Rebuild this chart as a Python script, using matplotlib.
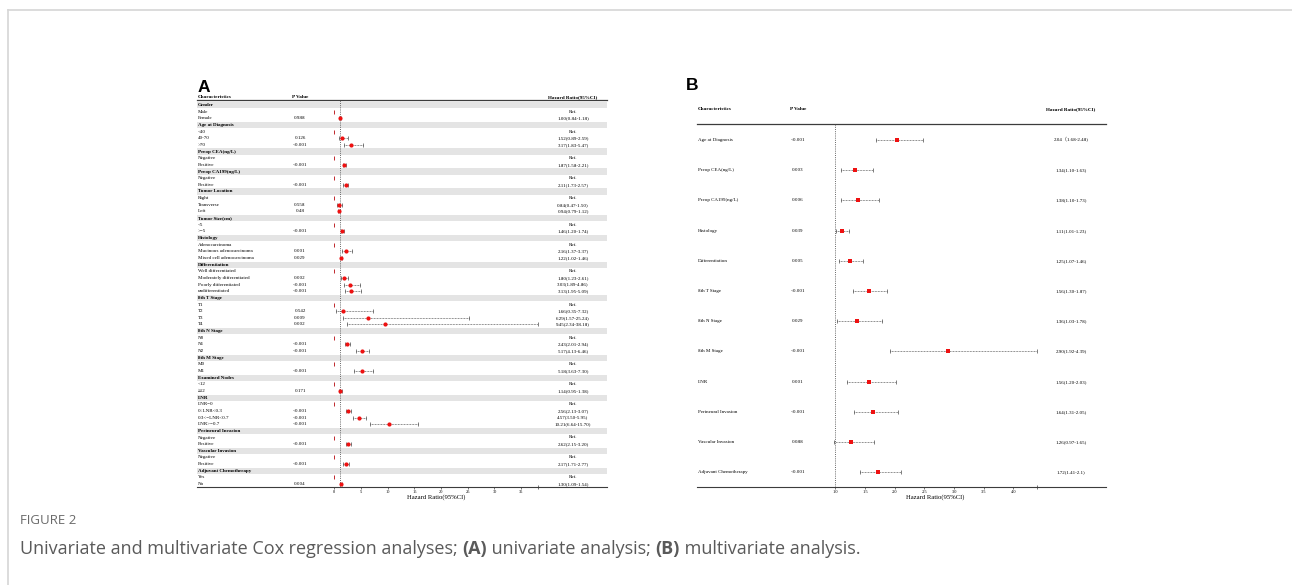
import re

import matplotlib
matplotlib.use("Agg")
import matplotlib.pyplot as plt
from matplotlib.lines import Line2D

W, H = 1292, 585
SERIF = ["Liberation Serif", "Noto Sans CJK SC"]

# univariate Cox model: first level of each variable is the reference
a_groups = ["Gender", "Age at Diagnosis", "Preop CEA(ng/L)", "Preop CA199(ng/L)", "Tumor Location",
            "Tumor Size(cm)", "Histology", "Differentiation", "8th T Stage", "8th N Stage",
            "8th M Stage", "Examined Nodes", "LNR", "Perineural Invasion", "Vascular Invasion",
            "Adjuvant Chemotherapy"]
a_levels = [["Male", "Female"], ["<40", "40-70", ">70"], ["Negative", "Positive"],
            ["Negative", "Positive"], ["Right", "Transverse", "Left"], ["<5", ">=5"],
            ["Adenocarcinoma", "Mucinous adenocarcinoma", "Mixed cell adenocarcinoma"],
            ["Well differentiated", "Moderately differentiated", "Poorly differentiated",
             "undifferentiated"],
            ["T1", "T2", "T3", "T4"], ["N0", "N1", "N2"], ["M0", "M1"], ["<12", "≥12"],
            ["LNR=0", "0<LNR<0.3", "0.3<=LNR<0.7", "LNR>=0.7"], ["Negative", "Positive"],
            ["Negative", "Positive"], ["Yes", "No"]]
a_pvals = [["0.988"], ["0.126", "<0.001"], ["<0.001"], ["<0.001"], ["0.558", "0.48"], ["<0.001"],
           ["0.001", "0.029"], ["0.002", "<0.001", "<0.001"], ["0.542", "0.009", "0.002"],
           ["<0.001", "<0.001"], ["<0.001"], ["0.171"], ["<0.001", "<0.001", "<0.001"],
           ["<0.001"], ["<0.001"], ["0.004"]]
a_hr = [["1.00(0.84-1.18)"], ["1.52(0.89-2.59)", "3.17(1.83-5.47)"], ["1.87(1.58-2.21)"],
        ["2.11(1.73-2.57)"], ["0.84(0.47-1.50)", "0.94(0.79-1.12)"], ["1.46(1.20-1.74)"],
        ["2.16(1.37-3.37)", "1.22(1.02-1.46)"],
        ["1.80(1.23-2.61)", "3.03(1.89-4.86)", "3.13(1.95-5.09)"],
        ["1.66(0.35-7.32)", "6.29(1.57-25.24)", "9.45(2.34-38.18)"],
        ["2.43(2.01-2.94)", "5.17(4.13-6.46)"], ["5.18(3.63-7.30)"], ["1.14(0.95-1.38)"],
        ["2.56(2.13-3.07)", "4.57(3.50-5.95)", "10.21(6.64-15.70)"], ["2.62(2.15-3.20)"],
        ["2.17(1.71-2.77)"], ["1.30(1.09-1.54)"]]
a_ticks = [0, 5, 10, 15, 20, 25, 30, 35]

# multivariate Cox model
b_vars = ["Age at Diagnosis", "Preop CEA(ng/L)", "Preop CA199(ng/L)", "Histology", "Differentiation",
          "8th T Stage", "8th N Stage", "8th M Stage", "LNR", "Perineural Invasion",
          "Vascular Invasion", "Adjuvant Chemotherapy"]
b_pvals = ["<0.001", "0.003", "0.006", "0.039", "0.005", "<0.001", "0.029", "<0.001", "0.001",
           "<0.001", "0.088", "<0.001"]
b_hr = ["2.04（1.68-2.48)", "1.34(1.10-1.63)", "1.38(1.10-1.73)", "1.11(1.01-1.23)",
        "1.25(1.07-1.46)", "1.56(1.30-1.87)", "1.36(1.03-1.78)", "2.90(1.92-4.39)",
        "1.56(1.20-2.03)", "1.64(1.31-2.05)", "1.26(0.97-1.65)", "1.72(1.41-2.1)"]
b_ticks = [1.0, 1.5, 2.0, 2.5, 3.0, 3.5, 4.0]


def parse(s):
    est, lo, hi = map(float, re.findall(r"\d+(?:\.\d+)?", s))
    return est, lo, hi


rows_a = []
for g, levs, ps, hrs in zip(a_groups, a_levels, a_pvals, a_hr):
    rows_a.append((g, "group", "", ""))
    rows_a.append((levs[0], "ref", "", "Ref."))
    for lev, p, hr in zip(levs[1:], ps, hrs):
        rows_a.append((lev, "est", p, hr))

rows_b = [(v, "est", p, hr) for v, p, hr in zip(b_vars, b_pvals, b_hr)]

fig = plt.figure(figsize=(W / 100, H / 100), dpi=100)


def box(x0, y0, x1, y1):
    return [x0 / W, 1 - y1 / H, (x1 - x0) / W, (y1 - y0) / H]


def draw_panel(rows, tab, ref_px, px_per_unit, xlim, ticks, row0, pitch, head_py,
               p_x, hr_x, hr_head_x, marker, ms):
    x0, top, x1, bottom = tab
    ax = fig.add_axes(box(x0, top, x1, bottom))
    ax.set_xlim(x0, x1)
    ax.set_ylim((bottom - row0) / pitch, (top - row0) / pitch)
    ax.set_xticks([])
    ax.set_yticks([])
    ax.patch.set_alpha(0)
    for s in ["left", "right"]:
        ax.spines[s].set_visible(False)
    ax.spines["top"].set_color("#3c3c3c")
    ax.spines["top"].set_linewidth(0.9)
    ax.spines["bottom"].set_color("#3c3c3c")
    ax.spines["bottom"].set_linewidth(0.8)

    hy = (head_py - row0) / pitch
    kw = dict(va="center", fontsize=3.7, family=SERIF, clip_on=False)
    ax.text(x0 + 1, hy, "Characteristics", ha="left", fontweight="bold", **kw)
    ax.text(p_x, hy, "P Value", ha="center", fontweight="bold", **kw)
    ax.text(hr_head_x, hy, "Hazard Ratio(95%CI)", ha="center", fontweight="bold", **kw)

    # forest column, x in hazard-ratio units
    fx0 = ref_px + px_per_unit * (xlim[0] - 1)
    fx1 = ref_px + px_per_unit * (xlim[1] - 1)
    fp = fig.add_axes(box(fx0, top, fx1, bottom), sharey=ax)
    fp.set_xlim(*xlim)
    fp.patch.set_alpha(0)
    for s in fp.spines.values():
        s.set_visible(False)
    fp.set_xticks(ticks)
    fp.set_xticklabels([f"{t:g}" if max(ticks) > 5 else f"{t:.1f}" for t in ticks],
                       fontsize=3.2, family=SERIF)
    fp.set_xticks([xlim[1]], minor=True)
    fp.tick_params(axis="x", which="major", direction="out", length=1.3, width=0.5,
                   color="#3c3c3c", pad=0.6)
    fp.tick_params(axis="x", which="minor", direction="inout", length=2.5, width=0.5,
                   color="#3c3c3c")
    fp.tick_params(axis="y", left=False, labelleft=False)
    fp.set_xlabel("Hazard Ratio(95%CI)", fontsize=4.8, family=SERIF, labelpad=0.5)
    fp.axvline(1, color="#555555", lw=0.6, ls=(0, (1.2, 1.4)), zorder=1)

    for i, (lab, kind, p, hr) in enumerate(rows):
        if kind == "group":
            ax.axhspan(i - 0.46, i + 0.46, color="#e4e4e4", lw=0, zorder=0)
        ax.text(x0 + 1, i, lab, ha="left", va="center", fontsize=3.6, family=SERIF,
                fontweight="bold" if kind == "group" else "normal")
        if p:
            ax.text(p_x, i, p, ha="center", va="center", fontsize=3.6, family=SERIF)
        if hr:
            ax.text(hr_x, i, hr, ha="center", va="center", fontsize=3.6, family=SERIF)
        if kind == "ref":
            fp.plot([0], [i], ls="none", marker="|", ms=3, mew=0.7, color="#c0282d",
                    clip_on=False, zorder=3)
        elif kind == "est":
            est, lo, hi = parse(hr)
            fp.plot([lo, hi], [i, i], color="#4a4a4a", lw=0.55, ls=(0, (1, 1)), zorder=2)
            fp.plot([lo, hi], [i, i], ls="none", marker="|", ms=3, mew=0.5, color="#4a4a4a",
                    clip_on=False, zorder=2)
            fp.plot([est], [i], ls="none", marker=marker, ms=ms, color="#ee1111", mew=0,
                    clip_on=False, zorder=4)


a_vals = [parse(hr) for _, k, _, hr in rows_a if k == "est"]
draw_panel(rows_a, (197, 100, 607, 487), 339.6, 5.34,
           (0, max(v[2] for v in a_vals)), a_ticks,
           105, 6.65, 97.5, 300, 573, 573, "o", 3.0)

b_vals = [parse(hr) for hr in b_hr]
draw_panel(rows_b, (697, 124, 1106, 487), 835.3, 59.4,
           (min(v[1] for v in b_vals), max(v[2] for v in b_vals)), b_ticks,
           140, 30.2, 109, 798, 1071, 1071, "s", 2.6)

# panel letters
fig.text(198 / W, 1 - 87 / H, "A", fontsize=12.5, fontweight="bold", family="Liberation Sans",
         va="center", ha="left")
fig.text(686 / W, 1 - 86 / H, "B", fontsize=12.5, fontweight="bold", family="Liberation Sans",
         va="center", ha="left")

# frame around the figure
fig.add_artist(Line2D([8 / W, 1], [1 - 10 / H, 1 - 10 / H], transform=fig.transFigure,
                      color="#d6d6d6", lw=1.2))
fig.add_artist(Line2D([8 / W, 8 / W], [0, 1 - 10 / H], transform=fig.transFigure,
                      color="#d6d6d6", lw=1.2))

# caption
fig.text(20 / W, 1 - 521 / H, "FIGURE 2", fontsize=9.5, color="#6a6a6a", family="Open Sans",
         va="center", ha="left")
renderer = fig.canvas.get_renderer()
parts = [("Univariate and multivariate Cox regression analyses; ", "normal"), ("(A)", "bold"),
         (" univariate analysis; ", "normal"), ("(B)", "bold"), (" multivariate analysis.", "normal")]
x = 20
for s, w in parts:
    t = fig.text(x / W, 1 - 549 / H, s, fontsize=13, color="#5a5a5a", family="Open Sans",
                 fontweight=w, va="center", ha="left")
    x += t.get_window_extent(renderer).width

fig.savefig("out.png", dpi=100)
